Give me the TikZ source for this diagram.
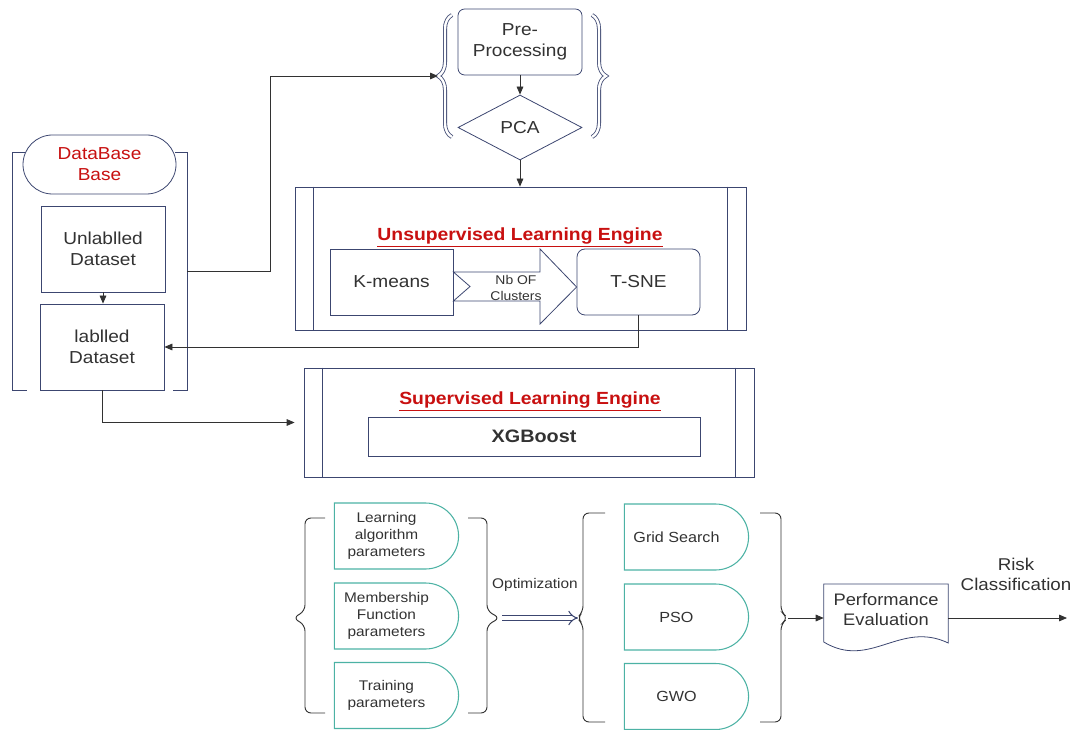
\documentclass[tikz,border=0pt]{standalone}
\usepackage{fontspec}
\setmainfont{Liberation Sans}[FakeStretch=1.1]
\usetikzlibrary{positioning}
\usetikzlibrary{shapes.misc}
\usetikzlibrary{shapes.geometric}
\usetikzlibrary{arrows.meta}
\usetikzlibrary{decorations.pathreplacing}
\newcommand{\pxu}{0.75pt}
\definecolor{navy}{RGB}{60,70,112}
\definecolor{dteal}{RGB}{76,178,164}
\definecolor{engred}{RGB}{200,16,16}
\definecolor{ink}{RGB}{50,50,50}
\tikzset{>={Triangle[length=6pt,width=5pt]}}
\tikzset{
	% boxes of the flow
	flowbox/.style={draw=navy,line width=0.6pt,text=ink,align=center,inner sep=0pt,
		font=\fontsize{13}{15.6}\selectfont},
	sz/.style 2 args={minimum width=#1*\pxu,minimum height=#2*\pxu},
	% frames of the two engines
	enginebox/.style={draw=navy,line width=0.6pt},
	enginetitle/.style={text=engred,font=\bfseries\fontsize{13.2}{16}\selectfont},
	% half rounded boxes at the bottom
	dshape/.style={draw=dteal,line width=0.8pt,rounded rectangle,rounded rectangle west arc=none,
		minimum width=133*\pxu,minimum height=66*\pxu},
	dtext/.style={text=ink,align=center,xshift=-10*\pxu,font=\fontsize{10.5}{13}\selectfont},
	% connectors
	link/.style={draw=ink,line width=0.6pt,->},
	brk/.style={draw=ink,line width=0.7pt,rounded corners=6*\pxu},
	curly/.style={draw=navy,line width=0.6pt,double=white,double distance=1.8pt,
		decorate,decoration={brace,amplitude=14*\pxu}},
}
\begin{document}
\begin{tikzpicture}[x=\pxu,y=-\pxu]
\useasboundingbox (0,0) rectangle (1077,730);
% data base column
\draw[enginebox] (26,152) -- (12,152) -- (12,390) -- (27,390);
\draw[enginebox] (175,152) -- (187,152) -- (187,390) -- (173,390);
\node[flowbox,rounded rectangle,sz={153}{59},text=engred,fill=white] (db) at (99.5,164.5) {DataBase\\Base};
\node[flowbox,sz={124}{86}] (unlab) at (103,249) {Unlablled\\Dataset};
\node[flowbox,sz={124}{86}] (lab) at (102,347) {lablled\\Dataset};
\draw[link] (unlab.south) -- (unlab.south |- lab.north);
\coordinate (dbout) at (187,271);

% pre-processing
\node[flowbox,rounded corners=5pt,sz={124}{66}] (pre) at (520,42) {Pre-\\Processing};
\node[flowbox,diamond,aspect=1.9,sz={124}{65}] (pca) at (520,127.5) {PCA};
\draw[curly] (452,137) -- (452,15);
\draw[curly] (592,15) -- (592,137);
\coordinate (pretip) at (438,76);
\draw[link] (dbout) -- ++(83,0) |- (pretip);
\draw[link] (pre) -- (pca);

% unsupervised engine
\node[enginebox,sz={451}{143}] (use) at (520.5,258.5) {};
\draw[enginebox] ([xshift=19*\pxu]use.north west) -- ([xshift=19*\pxu]use.south west);
\draw[enginebox] ([xshift=-19*\pxu]use.north east) -- ([xshift=-19*\pxu]use.south east);
\draw[link] (pca.south) -- (pca.south |- use.north);
\node[enginetitle] (usetitle) at (520,237) {\underline{Unsupervised Learning Engine}};
\node[flowbox,sz={123}{66}] (km) at (391.5,282) {K-means};
\node[flowbox,rounded corners=6pt,sz={123}{66}] (tsne) at (638.5,282) {T-SNE};
% hollow arrow between them
\draw[navy,line width=0.6pt] (km.east |- 0,272) -- (540,272) -- (540,249) -- (tsne.west |- 0,287)
	-- (540,324) -- (540,301) -- (km.east |- 0,301) -- (470,286.5) -- cycle;
\node[text=ink,align=center,font=\fontsize{9.5}{12.5}\selectfont] (nbc) at (516,288) {Nb OF\\Clusters};
\draw[link] (tsne.south) |- (lab.east);

% supervised engine
\node[enginebox,sz={450}{109}] (se) at (529,422.5) {};
\draw[enginebox] ([xshift=19*\pxu]se.north west) -- ([xshift=19*\pxu]se.south west);
\draw[enginebox] ([xshift=-19*\pxu]se.north east) -- ([xshift=-19*\pxu]se.south east);
\node[enginetitle] (setitle) at (530,401) {\underline{Supervised Learning Engine}};
\node[flowbox,sz={332}{39},font=\bfseries\fontsize{13.5}{16}\selectfont] (xgb) at (534,436.5) {XGBoost};
\draw[link] (lab.south) |- ([xshift=-9*\pxu]se.west);

% parameters to optimise
\node[dshape,label={[dtext]center:{Learning\\algorithm\\parameters}}] (lap) at (396.5,536) {};
\node[dshape,label={[dtext]center:{Membership\\Function\\parameters}}] (mfp) at (396.5,616) {};
\node[dshape,label={[dtext]center:{Training\\parameters}}] (trp) at (396.5,695.5) {};
\draw[brk] (325,518) -- (305,518) -- (305,611) -- (293,618) -- (305,625) -- (305,713) -- (325,713);
\draw[brk] (468,518) -- (487,518) -- (487,611) -- (500,618) -- (487,625) -- (487,713) -- (468,713);
\coordinate (optfrom) at (502,618);

% optimisers
\draw[brk] (605,513) -- (583,513) -- (583,612) -- (577,618) -- (583,624) -- (583,722) -- (605,722);
\coordinate (optto) at (578,618);
\draw[navy,line width=0.8pt,double=white,double distance=4*\pxu,-{Implies}] (optfrom) -- (optto);
\node[text=ink,font=\fontsize{10.5}{13}\selectfont] (opt) at (535,585) {Optimization};
\node[dshape,label={[dtext,font=\fontsize{11}{13}\selectfont]center:Grid Search}] (grid) at (686.5,537) {};
\node[dshape,label={[dtext,font=\fontsize{11}{13}\selectfont]center:PSO}] (pso) at (686.5,617) {};
\node[dshape,label={[dtext,font=\fontsize{11}{13}\selectfont]center:GWO}] (gwo) at (686.5,696.5) {};
\draw[brk] (760,513) -- (781,513) -- (781,612) -- (788,618) -- (781,624) -- (781,722) -- (760,722);
\coordinate (evalin) at (788,618);

% evaluation
\node[text=ink,align=center,font=\fontsize{12.5}{15}\selectfont,minimum width=124*\pxu] (perf) at (886,610) {Performance\\Evaluation};
\draw[navy,line width=0.6pt] (perf.west |- 0,584) -- (perf.east |- 0,584) -- (perf.east |- 0,643)
	.. controls (900,620) and (870,670) .. (perf.west |- 0,642) -- cycle;
\draw[link] (evalin) -- (evalin -| perf.west);
\coordinate (riskend) at (1067,618);
\draw[link] (riskend -| perf.east) -- (riskend);
\node[text=ink,align=center,font=\fontsize{12.8}{15}\selectfont] (risk) at (1016,574) {Risk\\Classification};
\end{tikzpicture}
\end{document}
